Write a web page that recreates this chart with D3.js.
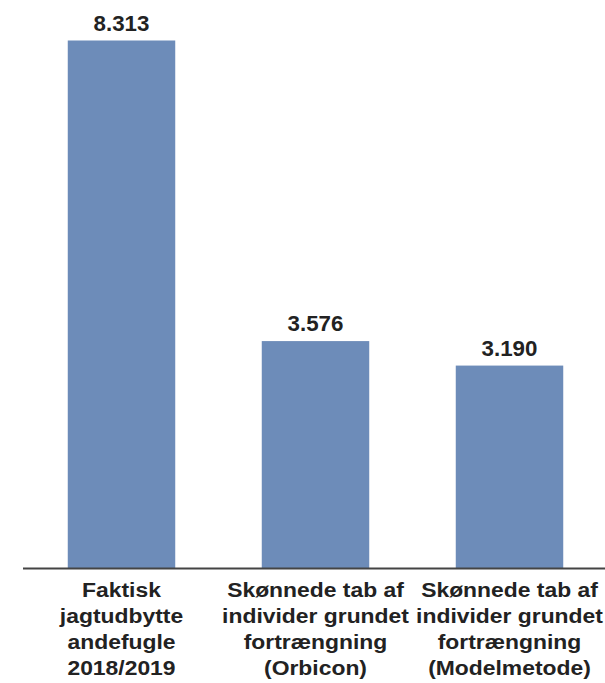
<!DOCTYPE html>
<html><head><meta charset="utf-8">
<script src="https://cdn.jsdelivr.net/npm/d3@7"></script>
<style>body{margin:0;background:#fff}</style>
</head><body>
<svg id="c" width="605" height="683"></svg>
<script>
const categories = [
  ["Faktisk","jagtudbytte","andefugle","2018/2019"],
  ["Skønnede tab af","individer grundet","fortrængning","(Orbicon)"],
  ["Skønnede tab af","individer grundet","fortrængning","(Modelmetode)"]
];
const values = [8313, 3576, 3190];
const valueLabels = ["8.313","3.576","3.190"];

const svg = d3.select("#c");
const baseY = 568, topY = 40.5;
const x = d3.scaleBand().domain(d3.range(values.length)).range([24.5, 606.5]).paddingInner(0.446).paddingOuter(0.223);
const y = d3.scaleLinear().domain([0, 8313]).range([baseY, topY]);
const font = "Arial, 'Liberation Sans', sans-serif";

svg.selectAll("rect.bar").data(values).join("rect")
  .attr("x", (d,i)=>x(i)).attr("width", x.bandwidth())
  .attr("y", d=>y(d)).attr("height", d=>baseY-y(d))
  .attr("fill", "#6d8cb9");

svg.append("line").attr("x1", 23).attr("x2", 605).attr("y1", baseY+0.5).attr("y2", baseY+0.5)
  .attr("stroke", "#444").attr("stroke-width", 1.8);

svg.selectAll("text.val").data(values).join("text")
  .attr("x", (d,i)=>x(i)+x.bandwidth()/2).attr("y", d=>y(d)-10)
  .attr("text-anchor","middle").attr("font-family", font).attr("font-weight","bold")
  .attr("font-size", 22.3).attr("fill","#222").text((d,i)=>valueLabels[i]);

categories.forEach((lines,i)=>{
  const cx = x(i)+x.bandwidth()/2;
  const t = svg.append("text").attr("text-anchor","middle").attr("font-family", font)
    .attr("transform", `translate(${cx},0) scale(1.1,1)`)
    .attr("font-weight","bold").attr("font-size", 20.8).attr("fill","#222");
  lines.forEach((l,j)=>{
    t.append("tspan").attr("x", 0).attr("y", 597.3 + j*26).text(l);
  });
});
</script>
</body></html>
